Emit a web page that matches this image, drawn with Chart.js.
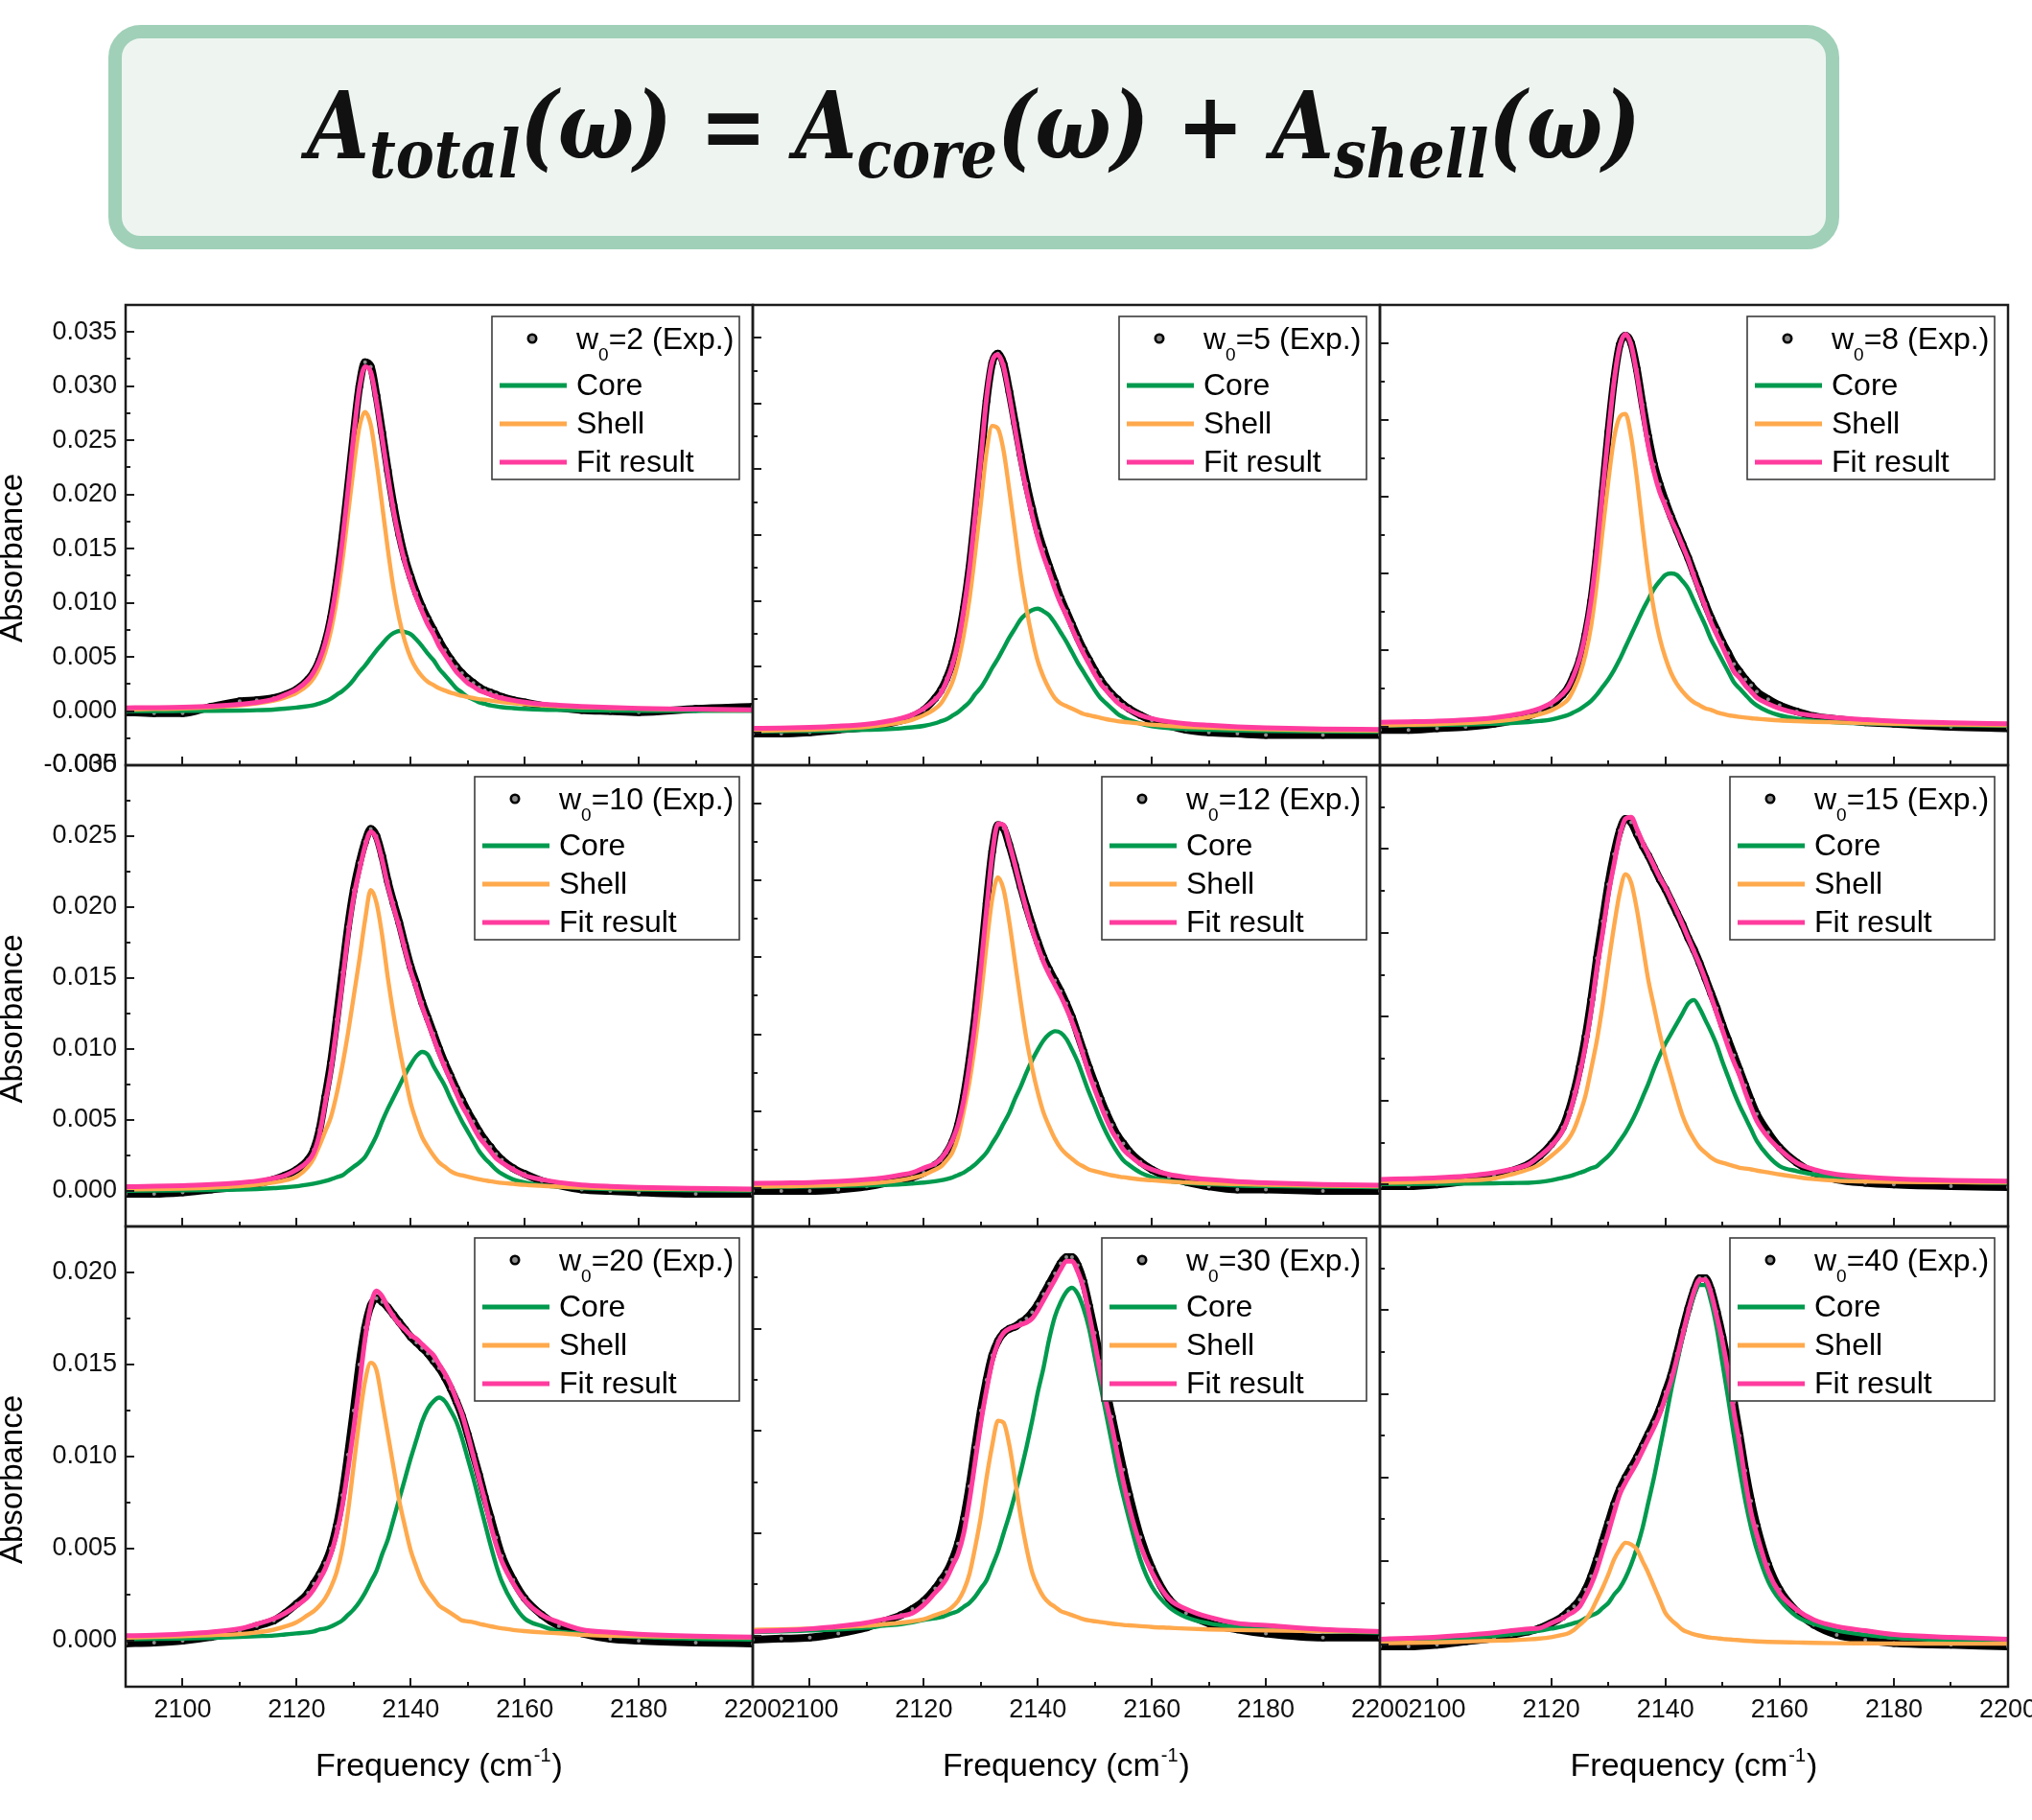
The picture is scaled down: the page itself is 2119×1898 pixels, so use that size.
<!DOCTYPE html>
<html lang="en">
<head>
<meta charset="utf-8">
<title>Core / shell decomposition of the absorbance band</title>
<script src="https://cdn.jsdelivr.net/npm/chart.js@4.4.1/dist/chart.umd.min.js"></script>
<style>
  html, body { margin: 0; padding: 0; background: #ffffff; }
  body { position: relative; width: 2119px; height: 1898px; overflow: hidden; }
  .formula-box {
    position: absolute; left: 113px; top: 26px; width: 1805px; height: 234px;
    box-sizing: border-box; border: 14px solid #a0d0b8; border-radius: 34px; background: #eef5f1;
  }
  .formula {
    position: absolute; left: 0; right: 0; top: 43px; text-align: center; white-space: nowrap;
    font-family: 'DejaVu Serif', serif; font-style: italic; font-weight: bold;
    font-size: 97px; line-height: 97px; color: #111111;
    transform: scaleX(0.86); transform-origin: 50% 50%;
  }
  .formula sub { font-size: 0.72em; line-height: 0; vertical-align: -0.28em; }
  canvas.panel { position: absolute; }
</style>
</head>
<body>
<div class="formula-box">
  <div class="formula">A<sub>total</sub>(ω) = A<sub>core</sub>(ω) + A<sub>shell</sub>(ω)</div>
</div>
<script>
// frequency grid shared by every series (cm-1)
const FREQ = [
  2090, 2095, 2100, 2105, 2110, 2113, 2116, 2118, 2120,
  2122, 2123, 2124, 2125, 2126, 2127, 2128, 2129, 2130, 2131, 2132, 2133, 2134, 2135, 2136, 2137, 2138, 2139,
  2140, 2141, 2142, 2143, 2144, 2145, 2146, 2147, 2148, 2149, 2150, 2151, 2152, 2153, 2154, 2155, 2156,
  2158, 2160, 2163, 2166, 2170, 2175, 2180, 2190, 2200
];

const W0_LABELS = ['2', '5', '8', '10', '12', '15', '20', '30', '40'];
const X_LABELS = [2100, 2120, 2140, 2160, 2180, 2200];
const Y_LABELS = [
  [-0.005, 0, 0.005, 0.010, 0.015, 0.020, 0.025, 0.030, 0.035],
  [0, 0.005, 0.010, 0.015, 0.020, 0.025, 0.030],
  [0, 0.005, 0.010, 0.015, 0.020]
];
const Y_RANGES = [
  [-0.005, 0.0375], [-0.0025, 0.0325], [-0.0025, 0.0275],
  [-0.0025, 0.030], [-0.0025, 0.0275], [-0.0025, 0.025],
  [-0.0025, 0.0225], [-0.0025, 0.020], [-0.0025, 0.025]
];

// w0 = 2
const EXP_W2 = [
  -0.0001, -0.0002, -0.0002, 0.0004, 0.0009, 0.0010, 0.0012, 0.0015, 0.0020,
  0.0029, 0.0036, 0.0047, 0.0063, 0.0086, 0.0119, 0.0160, 0.0207, 0.0256, 0.0300, 0.0322, 0.0318, 0.0291, 0.0257, 0.0222, 0.0190, 0.0163, 0.0141,
  0.0124, 0.0109, 0.0096, 0.0085, 0.0075, 0.0065, 0.0056, 0.0048, 0.0041, 0.0035, 0.0030, 0.0026, 0.0022, 0.0019, 0.0017, 0.0015, 0.0013,
  0.0010, 0.0008, 0.0005, 0.0003, 0.0001, 0.0000, -0.0001, 0.0002, 0.0004
];
const CORE_W2 = [
  0.0000, 0.0000, 0.00001, 0.00002, 0.00005, 0.00008, 0.00014, 0.00022, 0.00032,
  0.00045, 0.00055, 0.0007, 0.00088, 0.00114, 0.0015, 0.00185, 0.0023, 0.0029, 0.0036, 0.0042, 0.0049, 0.0056, 0.0062, 0.0068, 0.0072, 0.0074, 0.0073,
  0.0071, 0.0066, 0.0060, 0.0053, 0.0047, 0.0039, 0.0033, 0.0027, 0.0021, 0.0017, 0.0013, 0.00107, 0.00081, 0.00067, 0.00053, 0.00043, 0.00036,
  0.00027, 0.0002, 0.00013, 0.0001, 0.00007, 0.00005, 0.00003, 0.00002, 0.00001
];
const SHELL_W2 = [
  0.00015, 0.00019, 0.00025, 0.00036, 0.00053, 0.0007, 0.00097, 0.00125, 0.00168,
  0.00243, 0.00306, 0.0040, 0.0054, 0.0074, 0.0102, 0.0138, 0.0181, 0.0225, 0.0262, 0.0276, 0.0264, 0.0230, 0.0190, 0.0149, 0.0113, 0.0085, 0.0064,
  0.0049, 0.0039, 0.0032, 0.0027, 0.0024, 0.0021, 0.0019, 0.0017, 0.00155, 0.0014, 0.0013, 0.0012, 0.0011, 0.00105, 0.00097, 0.0009, 0.00084,
  0.00072, 0.00063, 0.00052, 0.00044, 0.00036, 0.00028, 0.00022, 0.00015, 0.0001
];
const FIT_W2 = [
  0.0003, 0.00032, 0.00036, 0.00045, 0.00062, 0.0008, 0.0011, 0.0015, 0.0020,
  0.00288, 0.00361, 0.0047, 0.00628, 0.00854, 0.0117, 0.01565, 0.0204, 0.0254, 0.0298, 0.0318, 0.0313, 0.0286, 0.0252, 0.0217, 0.0185, 0.0159, 0.0137,
  0.0120, 0.0105, 0.0092, 0.0080, 0.0071, 0.0060, 0.0052, 0.0044, 0.00365, 0.0031, 0.0026, 0.00227, 0.00191, 0.00172, 0.0015, 0.00133, 0.0012,
  0.00099, 0.00083, 0.00065, 0.00054, 0.00043, 0.00033, 0.00025, 0.00017, 0.00011
];

// w0 = 5
const EXP_W5 = [
  -0.0001, -0.0001, 0.0000, 0.0002, 0.0004, 0.0006, 0.0009, 0.0012, 0.0017,
  0.0026, 0.0032, 0.0041, 0.0053, 0.0070, 0.0094, 0.0125, 0.0165, 0.0208, 0.0252, 0.0281, 0.0288, 0.0280, 0.0259, 0.0235, 0.0211, 0.0189, 0.0170,
  0.0153, 0.0139, 0.0126, 0.0114, 0.0102, 0.0092, 0.0082, 0.0072, 0.0063, 0.0055, 0.0047, 0.0040, 0.0034, 0.0029, 0.0025, 0.0021, 0.0018,
  0.0013, 0.0009, 0.0005, 0.0002, 0.0000, -0.0001, -0.0002, -0.0002, -0.0002
];
const CORE_W5 = [
  0.00007, 0.00009, 0.00011, 0.00014, 0.00019, 0.00023, 0.0003, 0.00038, 0.00049,
  0.00069, 0.00084, 0.001, 0.00126, 0.00153, 0.0019, 0.0023, 0.0029, 0.0034, 0.0041, 0.0049, 0.0056, 0.0064, 0.0072, 0.0079, 0.0086, 0.0090, 0.0093,
  0.0094, 0.0092, 0.0089, 0.0083, 0.0076, 0.0069, 0.0061, 0.0053, 0.0046, 0.0039, 0.0032, 0.0026, 0.0022, 0.0018, 0.0014, 0.00115, 0.00094,
  0.00066, 0.00047, 0.00032, 0.00024, 0.00019, 0.00014, 0.00011, 0.00007, 0.00005
];
const SHELL_W5 = [
  0.00012, 0.00015, 0.0002, 0.00028, 0.00041, 0.00055, 0.00075, 0.00096, 0.0013,
  0.0018, 0.0022, 0.0029, 0.0038, 0.0053, 0.0074, 0.0101, 0.0136, 0.0174, 0.0213, 0.0233, 0.0231, 0.0214, 0.0184, 0.0152, 0.0120, 0.0094, 0.0072,
  0.0054, 0.0042, 0.0033, 0.0026, 0.0022, 0.0020, 0.0018, 0.0016, 0.0014, 0.0013, 0.0012, 0.0011, 0.0010, 0.00092, 0.00085, 0.0008, 0.00075,
  0.00066, 0.00058, 0.00049, 0.00042, 0.00035, 0.00028, 0.00023, 0.00016, 0.00012
];
const FIT_W5 = [
  0.0003, 0.00033, 0.00038, 0.00047, 0.00062, 0.0008, 0.00106, 0.00134, 0.0018,
  0.0025, 0.0030, 0.0039, 0.0051, 0.0068, 0.0093, 0.0124, 0.0165, 0.0208, 0.0254, 0.0282, 0.0287, 0.0278, 0.0256, 0.0231, 0.0206, 0.0184, 0.0165,
  0.0148, 0.0134, 0.0122, 0.0109, 0.0098, 0.0089, 0.0079, 0.0069, 0.0060, 0.0052, 0.0044, 0.0037, 0.0032, 0.0027, 0.00225, 0.00195, 0.0017,
  0.0013, 0.00105, 0.00081, 0.00066, 0.00054, 0.00042, 0.00034, 0.00026, 0.00022
];

// w0 = 8
const EXP_W8 = [
  -0.0002, -0.0002, -0.0001, 0.0000, 0.0002, 0.0004, 0.0007, 0.0010, 0.0014,
  0.0021, 0.0026, 0.0034, 0.0044, 0.0060, 0.0082, 0.0114, 0.0153, 0.0192, 0.0226, 0.0249, 0.0255, 0.0250, 0.0233, 0.0210, 0.0189, 0.0171, 0.0158,
  0.0147, 0.0137, 0.0128, 0.0119, 0.0110, 0.0100, 0.0090, 0.0080, 0.0071, 0.0063, 0.0055, 0.0048, 0.0041, 0.0036, 0.0031, 0.0027, 0.0023,
  0.0018, 0.0014, 0.0010, 0.0007, 0.0005, 0.0003, 0.0002, 0.0000, -0.0001
];
const CORE_W8 = [
  0.00008, 0.0001, 0.00012, 0.00015, 0.0002, 0.00024, 0.00031, 0.00038, 0.00048,
  0.00066, 0.00078, 0.00096, 0.00115, 0.0014, 0.0017, 0.0021, 0.0026, 0.0031, 0.0037, 0.0044, 0.0052, 0.0060, 0.0068, 0.0076, 0.0083, 0.0090, 0.0095,
  0.0099, 0.0100, 0.0099, 0.0095, 0.0090, 0.0082, 0.0074, 0.0066, 0.0057, 0.0050, 0.0043, 0.0036, 0.0029, 0.0025, 0.0021, 0.0017, 0.0014,
  0.001, 0.00075, 0.00053, 0.0004, 0.0003, 0.00023, 0.00017, 0.00011, 0.00008
];
const SHELL_W8 = [
  0.0001, 0.00013, 0.00017, 0.00024, 0.00035, 0.00047, 0.00064, 0.00082, 0.00107,
  0.00148, 0.00182, 0.0025, 0.0034, 0.0047, 0.0066, 0.0094, 0.0128, 0.0160, 0.0188, 0.0202, 0.0204, 0.0189, 0.0162, 0.0130, 0.0100, 0.0076, 0.0058,
  0.0045, 0.0035, 0.0028, 0.0023, 0.0019, 0.0016, 0.0014, 0.0012, 0.0011, 0.00095, 0.00085, 0.00076, 0.0007, 0.00065, 0.0006, 0.00056, 0.00053,
  0.00047, 0.00042, 0.00037, 0.00033, 0.00029, 0.00024, 0.0002, 0.00015, 0.00011
];
const FIT_W8 = [
  0.0003, 0.00033, 0.00037, 0.00045, 0.0006, 0.00075, 0.00097, 0.0012, 0.00155,
  0.00214, 0.0026, 0.0034, 0.0045, 0.0061, 0.0083, 0.0115, 0.0154, 0.0191, 0.0225, 0.0248, 0.0256, 0.0249, 0.0230, 0.0206, 0.0183, 0.0166, 0.0153,
  0.0144, 0.0135, 0.0127, 0.0118, 0.0109, 0.0098, 0.0088, 0.0078, 0.0068, 0.0060, 0.0052, 0.0044, 0.0036, 0.0032, 0.0027, 0.0023, 0.0019,
  0.0015, 0.0012, 0.0009, 0.00073, 0.00059, 0.00047, 0.00037, 0.00026, 0.0002
];

// w0 = 10
const EXP_W10 = [
  -0.0002, -0.0002, -0.0001, 0.0001, 0.0003, 0.0005, 0.0008, 0.0011, 0.0015,
  0.0022, 0.0029, 0.0043, 0.0066, 0.0090, 0.0121, 0.0154, 0.0186, 0.0212, 0.0231, 0.0246, 0.0255, 0.0250, 0.0236, 0.0218, 0.0203, 0.0189, 0.0173,
  0.0158, 0.0146, 0.0133, 0.0122, 0.0111, 0.0100, 0.0090, 0.0081, 0.0072, 0.0064, 0.0056, 0.0049, 0.0042, 0.0036, 0.0031, 0.0026, 0.0022,
  0.0016, 0.0012, 0.0007, 0.0004, 0.0001, 0.0000, -0.0001, -0.0002, -0.0002
];
const CORE_W10 = [
  0.00002, 0.00003, 0.00004, 0.00006, 0.0001, 0.00014, 0.0002, 0.00025, 0.00033,
  0.00045, 0.00052, 0.0006, 0.0007, 0.00082, 0.00096, 0.0011, 0.0014, 0.0017, 0.0020, 0.0024, 0.0031, 0.0039, 0.0049, 0.0058, 0.0066, 0.0074, 0.0082,
  0.0089, 0.0095, 0.0098, 0.0096, 0.0088, 0.0081, 0.0074, 0.0065, 0.0057, 0.0049, 0.0042, 0.0035, 0.0028, 0.0023, 0.0019, 0.0015, 0.0012,
  0.0008, 0.0006, 0.0004, 0.0003, 0.0002, 0.00013, 0.0001, 0.00005, 0.00003
];
const SHELL_W10 = [
  0.0001, 0.00013, 0.00017, 0.00023, 0.00033, 0.00043, 0.0006, 0.00075, 0.001,
  0.0017, 0.0023, 0.0032, 0.0042, 0.0052, 0.0068, 0.0088, 0.0111, 0.0137, 0.0163, 0.0191, 0.0212, 0.0203, 0.0180, 0.0150, 0.0124, 0.0101, 0.0081,
  0.0062, 0.0049, 0.0038, 0.0031, 0.0025, 0.0020, 0.0017, 0.0014, 0.0012, 0.0011, 0.0010, 0.0009, 0.00082, 0.00075, 0.00068, 0.00062, 0.00057,
  0.0005, 0.00043, 0.00036, 0.0003, 0.00025, 0.0002, 0.00017, 0.00013, 0.0001
];
const FIT_W10 = [
  0.0003, 0.00033, 0.00038, 0.00045, 0.00058, 0.0007, 0.0009, 0.0011, 0.0015,
  0.0021, 0.0027, 0.0040, 0.0062, 0.0085, 0.0115, 0.0147, 0.0180, 0.0207, 0.0226, 0.0243, 0.0253, 0.0248, 0.0233, 0.0215, 0.0200, 0.0186, 0.0170,
  0.0155, 0.0143, 0.0130, 0.0119, 0.0108, 0.0097, 0.0087, 0.0078, 0.0069, 0.0060, 0.0053, 0.0045, 0.0038, 0.0033, 0.0028, 0.0023, 0.0020,
  0.0015, 0.0011, 0.0008, 0.0006, 0.00043, 0.00032, 0.00025, 0.00018, 0.00014
];

// w0 = 12
const EXP_W12 = [
  -0.0002, -0.0002, -0.0002, -0.0001, 0.0001, 0.0003, 0.0005, 0.0007, 0.0010,
  0.0015, 0.0018, 0.0023, 0.0030, 0.0041, 0.0059, 0.0083, 0.0112, 0.0147, 0.0185, 0.0219, 0.0236, 0.0234, 0.0223, 0.0210, 0.0196, 0.0183, 0.0171,
  0.0160, 0.0150, 0.0142, 0.0135, 0.0128, 0.0120, 0.0111, 0.0100, 0.0089, 0.0078, 0.0068, 0.0058, 0.0049, 0.0041, 0.0034, 0.0029, 0.0024,
  0.0017, 0.0012, 0.0007, 0.0004, 0.0001, -0.0001, -0.0001, -0.0002, -0.0002
];
const CORE_W12 = [
  0.00007, 0.00008, 0.0001, 0.00013, 0.00017, 0.0002, 0.00024, 0.00029, 0.00035,
  0.00044, 0.0005, 0.00058, 0.00068, 0.00084, 0.001, 0.00125, 0.00153, 0.0019, 0.0023, 0.0029, 0.0035, 0.0042, 0.0049, 0.0058, 0.0066, 0.0075, 0.0083,
  0.0090, 0.0096, 0.0100, 0.0102, 0.0101, 0.0097, 0.0090, 0.0082, 0.0072, 0.0062, 0.0053, 0.0044, 0.0036, 0.0029, 0.0023, 0.0018, 0.0015,
  0.001, 0.0007, 0.00046, 0.00034, 0.00025, 0.00017, 0.00013, 0.00008, 0.00006
];
const SHELL_W12 = [
  0.00008, 0.00011, 0.00014, 0.0002, 0.00029, 0.00038, 0.00052, 0.00066, 0.00085,
  0.0012, 0.0014, 0.0018, 0.0023, 0.0033, 0.0050, 0.0069, 0.0094, 0.0124, 0.0158, 0.0188, 0.0202, 0.0194, 0.0173, 0.0147, 0.0121, 0.0097, 0.0078,
  0.0062, 0.0049, 0.0040, 0.0032, 0.0026, 0.0022, 0.0019, 0.0016, 0.0014, 0.0012, 0.0011, 0.0010, 0.0009, 0.00082, 0.00076, 0.0007, 0.00065,
  0.00056, 0.0005, 0.00042, 0.00036, 0.0003, 0.00025, 0.00021, 0.00015, 0.00012
];
const FIT_W12 = [
  0.0003, 0.00033, 0.00036, 0.00043, 0.00055, 0.00067, 0.00085, 0.001, 0.0013,
  0.0016, 0.0019, 0.0024, 0.0031, 0.0041, 0.0057, 0.0080, 0.0108, 0.0143, 0.0181, 0.0217, 0.0237, 0.0236, 0.0224, 0.0210, 0.0195, 0.0181, 0.0168,
  0.0157, 0.0147, 0.0139, 0.0132, 0.0125, 0.0117, 0.0108, 0.0098, 0.0086, 0.0074, 0.0064, 0.0054, 0.0045, 0.0037, 0.0031, 0.0025, 0.00215,
  0.00156, 0.0012, 0.00088, 0.0007, 0.00055, 0.00042, 0.00034, 0.00023, 0.00018
];

// w0 = 15
const EXP_W15 = [
  -0.0001, -0.0001, 0.0000, 0.0002, 0.0005, 0.0008, 0.0012, 0.0017, 0.0024,
  0.0034, 0.0043, 0.0055, 0.0070, 0.0088, 0.0110, 0.0135, 0.0157, 0.0179, 0.0197, 0.0211, 0.0218, 0.0216, 0.0209, 0.0202, 0.0196, 0.0189, 0.0182,
  0.0176, 0.0169, 0.0162, 0.0155, 0.0147, 0.0140, 0.0132, 0.0123, 0.0114, 0.0105, 0.0095, 0.0086, 0.0077, 0.0068, 0.0059, 0.0050, 0.0042,
  0.0031, 0.0022, 0.0013, 0.0007, 0.0003, 0.0001, 0.0000, -0.0001, -0.00015
];
const CORE_W15 = [
  0.00002, 0.00003, 0.00004, 0.00005, 0.00007, 0.00009, 0.0001, 0.00015, 0.00025,
  0.0004, 0.00048, 0.00058, 0.0007, 0.00082, 0.00097, 0.0011, 0.0014, 0.0017, 0.0021, 0.0026, 0.0031, 0.0037, 0.0044, 0.0052, 0.0060, 0.0069, 0.0077,
  0.0084, 0.0090, 0.0096, 0.0102, 0.0108, 0.0110, 0.0105, 0.0098, 0.0091, 0.0083, 0.0073, 0.0064, 0.0055, 0.0047, 0.0040, 0.0033, 0.0026,
  0.0017, 0.0011, 0.0008, 0.0006, 0.0004, 0.0003, 0.00022, 0.00015, 0.0001
];
const SHELL_W15 = [
  0.0001, 0.00013, 0.00017, 0.00024, 0.00036, 0.0006, 0.0009, 0.0012, 0.0017,
  0.0023, 0.0027, 0.0033, 0.0042, 0.0053, 0.0069, 0.0086, 0.0107, 0.0131, 0.0154, 0.0174, 0.0185, 0.0180, 0.0164, 0.0143, 0.0122, 0.0106, 0.0090,
  0.0076, 0.0064, 0.0052, 0.0041, 0.0033, 0.0027, 0.0022, 0.0019, 0.0016, 0.0014, 0.0013, 0.0012, 0.0011, 0.0010, 0.00095, 0.0009, 0.00083,
  0.00072, 0.0006, 0.00045, 0.00032, 0.00022, 0.00018, 0.00016, 0.00014, 0.00012
];
const FIT_W15 = [
  0.0003, 0.00035, 0.0004, 0.0005, 0.0007, 0.0009, 0.0012, 0.0017, 0.0023,
  0.0032, 0.0040, 0.0052, 0.0066, 0.0083, 0.0104, 0.0129, 0.0150, 0.0173, 0.0191, 0.0208, 0.0218, 0.0219, 0.0212, 0.0204, 0.0197, 0.0190, 0.0183,
  0.0177, 0.0170, 0.0163, 0.0155, 0.0147, 0.0139, 0.0131, 0.0122, 0.0112, 0.0102, 0.0092, 0.0082, 0.0073, 0.0065, 0.0055, 0.0046, 0.0038,
  0.0028, 0.0021, 0.0013, 0.0009, 0.0006, 0.00045, 0.00035, 0.00025, 0.0002
];

// w0 = 20
const EXP_W20 = [
  -0.00015, -0.0001, 0.0000, 0.0002, 0.0005, 0.0008, 0.0011, 0.0015, 0.0020,
  0.0026, 0.0031, 0.0036, 0.0042, 0.0050, 0.0062, 0.0079, 0.0101, 0.0125, 0.0150, 0.0170, 0.0182, 0.0186, 0.0184, 0.0181, 0.0177, 0.0173, 0.0169,
  0.0165, 0.0162, 0.0159, 0.0156, 0.0152, 0.0148, 0.0143, 0.0137, 0.0130, 0.0122, 0.0112, 0.0101, 0.0090, 0.0078, 0.0067, 0.0056, 0.0046,
  0.0033, 0.0023, 0.0014, 0.0008, 0.0004, 0.0001, 0.0000, -0.0001, -0.00015
];
const CORE_W20 = [
  0.00008, 0.0001, 0.00012, 0.00015, 0.0002, 0.00024, 0.00028, 0.00034, 0.0004,
  0.00045, 0.0005, 0.0006, 0.00066, 0.00077, 0.00092, 0.0011, 0.0014, 0.0017, 0.0021, 0.0026, 0.0032, 0.0038, 0.0047, 0.0055, 0.0066, 0.0077, 0.0088,
  0.0099, 0.0109, 0.0119, 0.0126, 0.0130, 0.0132, 0.0130, 0.0125, 0.0119, 0.0110, 0.0099, 0.0088, 0.0076, 0.0064, 0.0052, 0.0041, 0.0032,
  0.0020, 0.0012, 0.0008, 0.0005, 0.0004, 0.00027, 0.0002, 0.0001, 0.00006
];
const SHELL_W20 = [
  0.00017, 0.0002, 0.00024, 0.0003, 0.00036, 0.00045, 0.0006, 0.00077, 0.001,
  0.0014, 0.0016, 0.0019, 0.0023, 0.0029, 0.0037, 0.0050, 0.0070, 0.0095, 0.0120, 0.0141, 0.0151, 0.0147, 0.0130, 0.0112, 0.0094, 0.0076, 0.0062,
  0.0049, 0.0040, 0.0032, 0.0027, 0.0023, 0.0019, 0.0017, 0.0015, 0.0013, 0.0011, 0.00105, 0.001, 0.00092, 0.00085, 0.00078, 0.00072, 0.00067,
  0.00058, 0.00052, 0.00045, 0.0004, 0.00032, 0.00027, 0.00024, 0.0002, 0.00017
];
const FIT_W20 = [
  0.00027, 0.0003, 0.00037, 0.00047, 0.00065, 0.0009, 0.0012, 0.0015, 0.0019,
  0.0024, 0.0028, 0.0033, 0.0039, 0.0047, 0.0058, 0.0073, 0.0093, 0.0115, 0.0139, 0.0164, 0.0182, 0.0190, 0.0187, 0.0181, 0.0176, 0.0172, 0.0169,
  0.0166, 0.0164, 0.0161, 0.0158, 0.0155, 0.0150, 0.0145, 0.0139, 0.0131, 0.0123, 0.0112, 0.0100, 0.0088, 0.0076, 0.0063, 0.0052, 0.0043,
  0.0031, 0.0022, 0.0014, 0.0010, 0.0006, 0.00045, 0.00035, 0.00025, 0.0002
];

// w0 = 30
const EXP_W30 = [
  -0.0002, -0.00015, -0.0001, 0.0001, 0.0004, 0.0007, 0.0010, 0.0013, 0.0017,
  0.0023, 0.0027, 0.0031, 0.0037, 0.0045, 0.0057, 0.0073, 0.0092, 0.0110, 0.0125, 0.0137, 0.0144, 0.0148, 0.0150, 0.0151, 0.0153, 0.0155, 0.0158,
  0.0162, 0.0167, 0.0172, 0.0177, 0.0182, 0.0185, 0.0185, 0.0181, 0.0173, 0.0161, 0.0148, 0.0134, 0.0120, 0.0107, 0.0094, 0.0081, 0.0069,
  0.0048, 0.0033, 0.0018, 0.0011, 0.0006, 0.0003, 0.0001, -0.0001, -0.0001
];
const CORE_W30 = [
  0.00017, 0.0002, 0.00025, 0.0003, 0.00039, 0.00048, 0.00056, 0.00065, 0.00077,
  0.00085, 0.0009, 0.001, 0.0011, 0.0012, 0.0014, 0.0016, 0.0019, 0.0023, 0.0027, 0.0034, 0.0041, 0.0050, 0.0059, 0.0069, 0.0080, 0.0092, 0.0105,
  0.0119, 0.0131, 0.0145, 0.0156, 0.0163, 0.0168, 0.0170, 0.0167, 0.0160, 0.0150, 0.0136, 0.0122, 0.0108, 0.0094, 0.0080, 0.0068, 0.0057,
  0.0037, 0.0024, 0.0014, 0.0009, 0.0006, 0.00042, 0.00032, 0.00022, 0.00015
];
const SHELL_W30 = [
  0.00028, 0.0003, 0.00034, 0.0004, 0.00048, 0.00055, 0.00063, 0.0007, 0.0008,
  0.001, 0.0011, 0.0012, 0.0014, 0.0017, 0.0022, 0.0030, 0.0043, 0.0058, 0.0077, 0.0093, 0.0105, 0.0104, 0.0093, 0.0076, 0.0058, 0.0043, 0.0031,
  0.0024, 0.0019, 0.0016, 0.0014, 0.0012, 0.0011, 0.0010, 0.0009, 0.0008, 0.00074, 0.0007, 0.00066, 0.00062, 0.00058, 0.00055, 0.00052, 0.0005,
  0.00046, 0.00042, 0.00038, 0.00034, 0.0003, 0.00027, 0.00025, 0.00022, 0.00019
];
const FIT_W30 = [
  0.0002, 0.00025, 0.00033, 0.00045, 0.00063, 0.0008, 0.00095, 0.0011, 0.0015,
  0.0021, 0.0024, 0.0028, 0.0034, 0.0040, 0.0050, 0.0066, 0.0085, 0.0104, 0.0120, 0.0134, 0.0143, 0.0148, 0.0150, 0.0151, 0.0152, 0.0153, 0.0155,
  0.0159, 0.0164, 0.0169, 0.0174, 0.0179, 0.0183, 0.0183, 0.0178, 0.0170, 0.0157, 0.0143, 0.0128, 0.0114, 0.0102, 0.0088, 0.0075, 0.0063,
  0.0044, 0.0031, 0.0018, 0.0013, 0.0009, 0.0006, 0.0005, 0.0003, 0.0002
];

// w0 = 40
const EXP_W40 = [
  -0.0001, -0.0001, 0.0000, 0.0002, 0.0004, 0.0006, 0.0008, 0.0010, 0.0013,
  0.0017, 0.0020, 0.0023, 0.0027, 0.0033, 0.0041, 0.0051, 0.0062, 0.0073, 0.0084, 0.0093, 0.0100, 0.0106, 0.0112, 0.0119, 0.0126, 0.0133, 0.0141,
  0.0151, 0.0161, 0.0174, 0.0188, 0.0201, 0.0212, 0.0219, 0.0219, 0.0212, 0.0199, 0.0184, 0.0166, 0.0145, 0.0125, 0.0104, 0.0086, 0.0071,
  0.0048, 0.0033, 0.0020, 0.0012, 0.0006, 0.0003, 0.0001, 0.0000, -0.0001
];
const CORE_W40 = [
  0.00023, 0.00027, 0.00033, 0.00041, 0.00053, 0.00063, 0.00075, 0.00084, 0.00097,
  0.0011, 0.0012, 0.0013, 0.0014, 0.0016, 0.00175, 0.0019, 0.0022, 0.0025, 0.0030, 0.0034, 0.0040, 0.0048, 0.0058, 0.0070, 0.0085, 0.0100, 0.0117,
  0.0134, 0.0152, 0.0168, 0.0184, 0.0198, 0.0209, 0.0215, 0.0215, 0.0205, 0.0189, 0.0168, 0.0147, 0.0125, 0.0105, 0.0086, 0.0070, 0.0057,
  0.0038, 0.0027, 0.0017, 0.00125, 0.00086, 0.0006, 0.00043, 0.00027, 0.00018
];
const SHELL_W40 = [
  0.0001, 0.00012, 0.00015, 0.0002, 0.00025, 0.00028, 0.00033, 0.00038, 0.00046,
  0.0006, 0.0007, 0.0009, 0.0012, 0.0015, 0.0020, 0.0027, 0.0034, 0.0042, 0.0051, 0.0057, 0.0061, 0.0060, 0.0057, 0.0050, 0.0043, 0.0035, 0.0027,
  0.0019, 0.0015, 0.0012, 0.0009, 0.00075, 0.00063, 0.00055, 0.00048, 0.00043, 0.0004, 0.00036, 0.00033, 0.0003, 0.00028, 0.00025, 0.00023, 0.00021,
  0.00018, 0.00016, 0.00014, 0.00012, 0.0001, 0.00009, 0.00008, 0.00007, 0.00007
];
const FIT_W40 = [
  0.00034, 0.0004, 0.00047, 0.00058, 0.00072, 0.00085, 0.00095, 0.001, 0.0013,
  0.0016, 0.0018, 0.0020, 0.0023, 0.0029, 0.0036, 0.0045, 0.0056, 0.0067, 0.0079, 0.0090, 0.0097, 0.0103, 0.0109, 0.0116, 0.0123, 0.0130, 0.0138,
  0.0148, 0.0158, 0.0171, 0.0185, 0.0199, 0.0211, 0.0218, 0.0218, 0.0210, 0.0196, 0.0181, 0.0162, 0.0139, 0.0120, 0.0098, 0.0079, 0.0066,
  0.0044, 0.0031, 0.0021, 0.0015, 0.0011, 0.00085, 0.00062, 0.00045, 0.00034
];

const SERIES = [
  { exp: EXP_W2, core: CORE_W2, shell: SHELL_W2, fit: FIT_W2 },
  { exp: EXP_W5, core: CORE_W5, shell: SHELL_W5, fit: FIT_W5 },
  { exp: EXP_W8, core: CORE_W8, shell: SHELL_W8, fit: FIT_W8 },
  { exp: EXP_W10, core: CORE_W10, shell: SHELL_W10, fit: FIT_W10 },
  { exp: EXP_W12, core: CORE_W12, shell: SHELL_W12, fit: FIT_W12 },
  { exp: EXP_W15, core: CORE_W15, shell: SHELL_W15, fit: FIT_W15 },
  { exp: EXP_W20, core: CORE_W20, shell: SHELL_W20, fit: FIT_W20 },
  { exp: EXP_W30, core: CORE_W30, shell: SHELL_W30, fit: FIT_W30 },
  { exp: EXP_W40, core: CORE_W40, shell: SHELL_W40, fit: FIT_W40 }
];

// page geometry of the 3x3 grid of plot frames
const COL_LEFT = [131, 785, 1439];
const COL_WIDTH = [654, 654, 655];
const ROW_TOP = [318, 798, 1279];
const ROW_HEIGHT = [480, 481, 480];
const PAD_L = 131, PAD_T = 20, PAD_R = 45, PAD_B = 110;

const FONT = "'Liberation Sans', Arial, Helvetica, sans-serif";
const COLORS = { exp: '#000000', core: '#009a4e', shell: '#ffa94d', fit: '#ff3c9e' };

function isMultiple(value, step) {
  const r = value / step;
  return Math.abs(r - Math.round(r)) < 1e-6;
}

function toPoints(values) {
  return FREQ.map(function (f, k) { return { x: f, y: values[k] }; });
}

// frame, inward ticks, tick labels, legend box and axis titles
const panelDecor = {
  id: 'panelDecor',
  afterDraw: function (chart, args, opts) {
    const ctx = chart.ctx;
    const area = chart.chartArea;
    const xs = chart.scales.x;
    const ys = chart.scales.y;
    const ds = chart.data.datasets;
    ctx.save();

    ctx.strokeStyle = '#1c1c1c';
    ctx.lineWidth = 2;
    ctx.beginPath();
    xs.ticks.forEach(function (t) {
      const px = Math.round(xs.getPixelForValue(t.value));
      const len = isMultiple(t.value, 20) ? 9 : 5;
      ctx.moveTo(px, area.bottom);
      ctx.lineTo(px, area.bottom - len);
    });
    ys.ticks.forEach(function (t) {
      const py = Math.round(ys.getPixelForValue(t.value));
      const len = isMultiple(t.value, 0.005) ? 9 : 5;
      ctx.moveTo(area.left, py);
      ctx.lineTo(area.left + len, py);
    });
    ctx.stroke();

    ctx.lineWidth = 2.5;
    ctx.strokeRect(area.left, area.top, area.right - area.left, area.bottom - area.top);

    ctx.fillStyle = '#111111';
    ctx.font = '27px ' + FONT;
    if (opts.col === 0) {
      ctx.textAlign = 'right';
      ctx.textBaseline = 'middle';
      Y_LABELS[opts.row].forEach(function (v) {
        ctx.fillText(v.toFixed(3), area.left - 9, ys.getPixelForValue(v));
      });
    }
    if (opts.row === 2) {
      ctx.textAlign = 'center';
      ctx.textBaseline = 'middle';
      X_LABELS.forEach(function (v) {
        ctx.fillText(String(v), xs.getPixelForValue(v), area.bottom + 25);
      });
    }

    // legend
    ctx.font = '32px ' + FONT;
    const wW = ctx.measureText('w').width;
    const rest = '=' + opts.w0 + ' (Exp.)';
    const restW = ctx.measureText(rest).width;
    ctx.font = '19px ' + FONT;
    const subW = ctx.measureText('0').width;
    const boxW = Math.round(88 + wW + subW + restW + 6);
    const boxH = 170;
    const bx = Math.round(area.right - 14 - boxW);
    const by = area.top + 12;
    ctx.fillStyle = '#ffffff';
    ctx.fillRect(bx, by, boxW, boxH);
    ctx.strokeStyle = '#3c3c3c';
    ctx.lineWidth = 1.6;
    ctx.strokeRect(bx, by, boxW, boxH);

    const expDs = ds[3];
    ctx.beginPath();
    ctx.arc(bx + 42, by + 23, 4.2, 0, Math.PI * 2);
    ctx.fillStyle = expDs.pointBackgroundColor;
    ctx.fill();
    ctx.lineWidth = 2.6;
    ctx.strokeStyle = expDs.pointBorderColor;
    ctx.stroke();

    ctx.fillStyle = '#000000';
    ctx.textAlign = 'left';
    ctx.textBaseline = 'alphabetic';
    ctx.font = '32px ' + FONT;
    ctx.fillText('w', bx + 88, by + 34);
    ctx.font = '19px ' + FONT;
    ctx.fillText('0', bx + 88 + wW, by + 46);
    ctx.font = '32px ' + FONT;
    ctx.fillText(rest, bx + 88 + wW + subW, by + 34);

    const rows = [[ds[2], 72], [ds[1], 112], [ds[0], 152]];
    ctx.textBaseline = 'middle';
    rows.forEach(function (r) {
      ctx.strokeStyle = r[0].borderColor;
      ctx.lineWidth = 5;
      ctx.beginPath();
      ctx.moveTo(bx + 8, by + r[1]);
      ctx.lineTo(bx + 78, by + r[1]);
      ctx.stroke();
      ctx.fillText(r[0].label, bx + 88, by + r[1] + 1);
    });

    // axis titles
    if (opts.col === 0) {
      ctx.save();
      ctx.translate(23, (area.top + area.bottom) / 2 + 24);
      ctx.rotate(-Math.PI / 2);
      ctx.font = '33px ' + FONT;
      ctx.textAlign = 'center';
      ctx.textBaseline = 'alphabetic';
      ctx.fillText('Absorbance', 0, 0);
      ctx.restore();
    }
    if (opts.row === 2) {
      const a = 'Frequency (cm', b = '-1', c = ')';
      ctx.textAlign = 'left';
      ctx.textBaseline = 'alphabetic';
      ctx.font = '34px ' + FONT;
      const wa = ctx.measureText(a).width;
      const wc = ctx.measureText(c).width;
      ctx.font = '20px ' + FONT;
      const wb = ctx.measureText(b).width;
      const x0 = (area.left + area.right) / 2 - (wa + wb + wc + 2) / 2;
      const base = area.bottom + 93;
      ctx.font = '34px ' + FONT;
      ctx.fillText(a, x0, base);
      ctx.font = '20px ' + FONT;
      ctx.fillText(b, x0 + wa + 1, base - 15);
      ctx.font = '34px ' + FONT;
      ctx.fillText(c, x0 + wa + wb + 2, base);
    }
    ctx.restore();
  }
};

function makePanel(i) {
  const row = Math.floor(i / 3);
  const col = i % 3;
  const w = COL_WIDTH[col] + PAD_L + PAD_R;
  const h = ROW_HEIGHT[row] + PAD_T + PAD_B;
  const canvas = document.createElement('canvas');
  canvas.className = 'panel';
  canvas.width = w;
  canvas.height = h;
  canvas.style.width = w + 'px';
  canvas.style.height = h + 'px';
  canvas.style.left = (COL_LEFT[col] - PAD_L) + 'px';
  canvas.style.top = (ROW_TOP[row] - PAD_T) + 'px';
  document.body.appendChild(canvas);

  const s = SERIES[i];
  const yr = Y_RANGES[i];
  const curve = { pointRadius: 0, borderWidth: 4.4, fill: false, cubicInterpolationMode: 'monotone' };

  new Chart(canvas, {
    type: 'line',
    data: {
      datasets: [
        Object.assign({ label: 'Fit result', data: toPoints(s.fit), borderColor: COLORS.fit, order: 0 }, curve, { borderWidth: 5 }),
        Object.assign({ label: 'Shell', data: toPoints(s.shell), borderColor: COLORS.shell, order: 1 }, curve),
        Object.assign({ label: 'Core', data: toPoints(s.core), borderColor: COLORS.core, order: 2 }, curve),
        {
          label: 'w0=' + W0_LABELS[i] + ' (Exp.)',
          data: toPoints(s.exp),
          borderColor: COLORS.exp,
          borderWidth: 8,
          borderJoinStyle: 'round',
          cubicInterpolationMode: 'monotone',
          pointRadius: 3,
          pointBorderWidth: 2,
          pointBackgroundColor: '#8f8f8f',
          pointBorderColor: '#000000',
          fill: false,
          order: 3
        }
      ]
    },
    options: {
      responsive: false,
      animation: false,
      devicePixelRatio: 1,
      events: [],
      layout: { padding: { left: 0, top: PAD_T, right: PAD_R, bottom: 0 } },
      plugins: {
        legend: { display: false },
        tooltip: { enabled: false },
        panelDecor: { row: row, col: col, w0: W0_LABELS[i] }
      },
      scales: {
        x: {
          type: 'linear', min: 2090, max: 2200,
          ticks: { display: false, stepSize: 10 },
          grid: { display: false, drawTicks: false },
          border: { display: false },
          afterFit: function (scale) { scale.height = PAD_B; }
        },
        y: {
          type: 'linear', min: yr[0], max: yr[1],
          ticks: { display: false, stepSize: 0.0025, includeBounds: false },
          grid: { display: false, drawTicks: false },
          border: { display: false },
          afterFit: function (scale) { scale.width = PAD_L; }
        }
      }
    },
    plugins: [panelDecor]
  });
}

for (let i = 0; i < 9; i++) {
  makePanel(i);
}
</script>
</body>
</html>
